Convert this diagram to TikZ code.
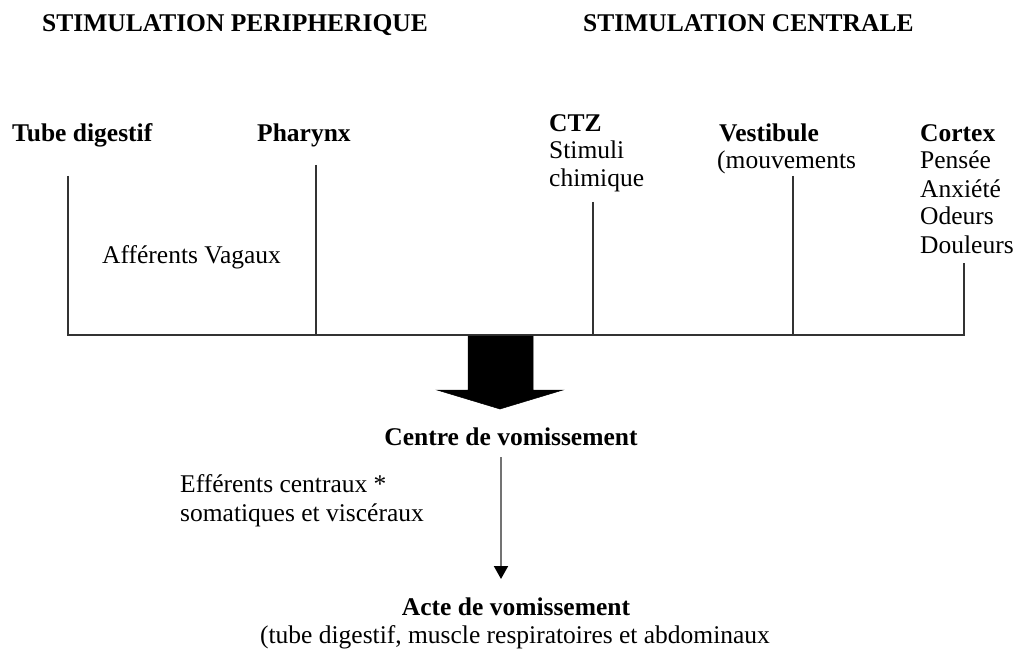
\documentclass[tikz,border=0pt]{standalone}
\usepackage{fontspec}
\setmainfont{Liberation Serif}
\usetikzlibrary{arrows.meta}
\begin{document}
\begin{tikzpicture}[x=1pt,y=-1pt,
  txt/.style={inner sep=0pt, anchor=base west, font=\fontsize{25.5}{28}\selectfont},
  btxt/.style={txt, font=\fontsize{25.5}{28}\selectfont\bfseries},
  ctxt/.style={txt, anchor=base},
  cbtxt/.style={btxt, anchor=base},
  wire/.style={line width=1.7pt, draw=black!80},
  thinarrow/.style={line width=2pt, draw=black!55, -{Triangle[width=14pt,length=13pt,color=black,fill=black]}},
  bigarrow/.style={fill=black, draw=black, line width=0.5pt}]
\useasboundingbox (0,0) rectangle (1018,650);
\fill[white] (0,0) rectangle (1018,650);

% headings
\node[btxt] (h1) at (42,32) {STIMULATION PERIPHERIQUE};
\node[btxt] (h2) at (583,32) {STIMULATION CENTRALE};

% sources
\node[btxt] (tube) at (12,142) {Tube digestif};
\node[btxt] (phar) at (257,142) {Pharynx};
\node[btxt] (ctz) at (549,132) {CTZ};
\node[txt] (ctz1) at (549,159) {Stimuli};
\node[txt] (ctz2) at (549,186) {chimique};
\node[btxt] (vest) at (719,142) {Vestibule};
\node[txt] (vest1) at (717,169) {(mouvements};
\node[btxt] (cort) at (920,142) {Cortex};
\node[txt] (cort1) at (920,169) {Pensée};
\node[txt] (cort2) at (920,197) {Anxiété};
\node[txt] (cort3) at (920,225) {Odeurs};
\node[txt] (cort4) at (920,253) {Douleurs};
\node[txt] (aff) at (102,263) {Afférents Vagaux};

% vertical connectors
\coordinate (tubeT) at (68,176);
\coordinate (tubeB) at (68,335);
\coordinate (pharT) at (316,165);
\coordinate (pharB) at (316,335);
\coordinate (ctzT) at (593,202);
\coordinate (ctzB) at (593,335);
\coordinate (vestT) at (793,176);
\coordinate (vestB) at (793,335);
\coordinate (cortT) at (964,263);
\coordinate (cortB) at (964,335);
\draw[wire] (tubeT) -- (tubeB) -- (cortB) -- (cortT);
\draw[wire] (pharT) -- (pharB);
\draw[wire] (ctzT) -- (ctzB);
\draw[wire] (vestT) -- (vestB);

% big arrow
\fill[bigarrow] (468,336) -- (533,336) -- (533,390) -- (563,390) -- (500,409)
  -- (437,390) -- (468,390) -- cycle;

% centre
\node[cbtxt] (centre) at (511,445) {Centre de vomissement};
\node[txt] (eff1) at (180,492) {Efférents centraux *};
\node[txt] (eff2) at (180,521) {somatiques et viscéraux};
\coordinate (arT) at (501,457);
\coordinate (arB) at (501,579);
\draw[thinarrow] (arT) -- (arB);

\node[cbtxt] (acte) at (516,615) {Acte de vomissement};
\node[ctxt] (acte1) at (515,643) {(tube digestif, muscle respiratoires et abdominaux};
\end{tikzpicture}
\end{document}
